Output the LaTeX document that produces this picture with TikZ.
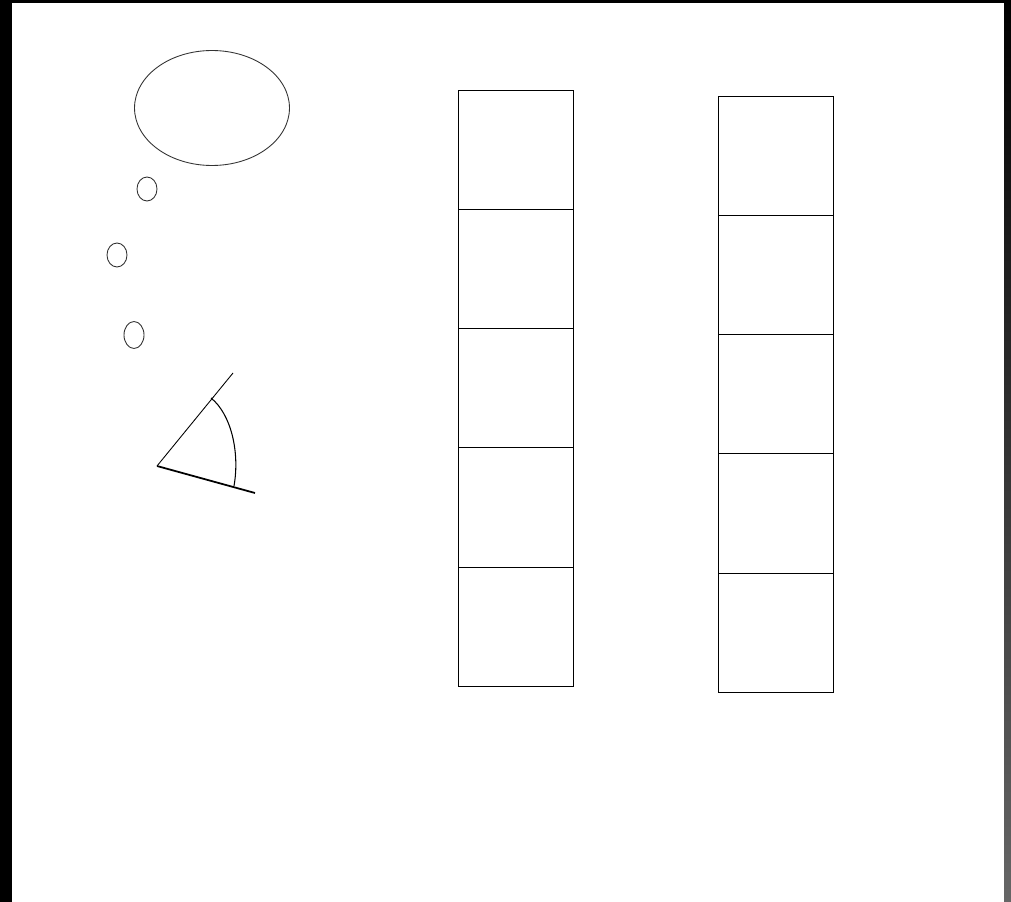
\documentclass[tikz,border=0pt]{standalone}
\usetikzlibrary{positioning,calc,shapes.geometric}

\begin{document}
\begin{tikzpicture}[x=0.02cm,y=-0.02cm,line width=0.6pt,
 cell/.style={draw,rectangle,inner sep=0pt,outer sep=0pt,line width=0.45pt,minimum width=2.3cm,minimum height=2.386cm},
 bubble/.style={draw,ellipse,inner sep=0pt,line width=0.5pt,draw=black!80}]
% frame
\fill[black] (0,0) rectangle (1011,902);
\shade[top color=black,bottom color=black!60] (1004,0) rectangle (1011,902);
\fill[white] (12,3) rectangle (1004,902);
\useasboundingbox (0,0) rectangle (1011,902);
% thought bubble
\node[bubble,minimum width=3.1cm,minimum height=2.3cm] (cloud) at (212,108) {};
\node[bubble,minimum width=0.4cm,minimum height=0.48cm] (dot1) at (147,189) {};
\node[bubble,minimum width=0.4cm,minimum height=0.48cm] (dot2) at (117,255) {};
\node[bubble,minimum width=0.4cm,minimum height=0.54cm] (dot3) at (134,335) {};
% angle
\coordinate (v) at (157,466);
\coordinate (up) at (233,373);
\coordinate (lo) at (255,493);
\coordinate (a1) at (211,398);
\coordinate (a2) at (234,486);
\draw[line width=0.5pt] (v) -- (up);
\draw[line width=1pt] (v) -- (lo);
\draw[line width=0.6pt] (a1) .. controls (231,414) and (240,452) .. (a2);
% left column
\node[cell,anchor=north west] (l1) at (458,90) {};
\node[cell,below=0pt of l1] (l2) {};
\node[cell,below=0pt of l2] (l3) {};
\node[cell,below=0pt of l3] (l4) {};
\node[cell,below=0pt of l4] (l5) {};
% right column
\node[cell,anchor=north west] (r1) at (718,96) {};
\node[cell,below=0pt of r1] (r2) {};
\node[cell,below=0pt of r2] (r3) {};
\node[cell,below=0pt of r3] (r4) {};
\node[cell,below=0pt of r4] (r5) {};
\end{tikzpicture}
\end{document}
